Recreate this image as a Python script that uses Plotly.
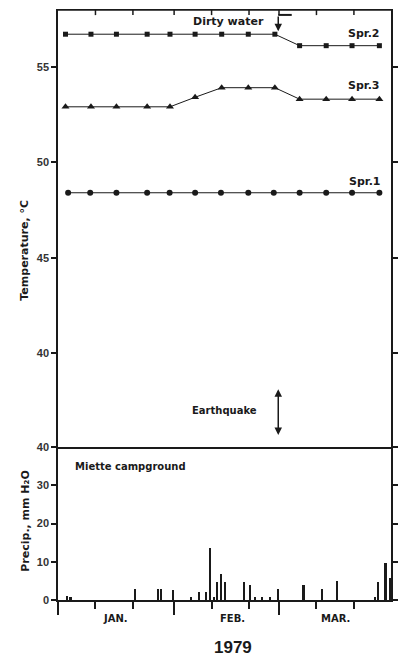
import plotly.graph_objects as go

# ---- data (days counted from Jan 1, 1979) ----
spring_days = [2.0, 8.8, 15.6, 23.8, 29.9, 36.6, 43.7, 50.8, 57.9, 64.5, 71.6, 78.5, 85.8]
spr1_days = [2.7, 8.6, 15.6, 23.8, 29.8, 36.6, 43.5, 50.8, 57.6, 64.5, 71.6, 78.5, 85.8]
spr2_temp = [56.7, 56.7, 56.7, 56.7, 56.7, 56.7, 56.7, 56.7, 56.7, 56.1, 56.1, 56.1, 56.1]
spr3_temp = [52.9, 52.9, 52.9, 52.9, 52.9, 53.4, 53.9, 53.9, 53.9, 53.3, 53.3, 53.3, 53.3]
spr1_temp = [48.4, 48.4, 48.4, 48.4, 48.4, 48.4, 48.4, 48.4, 48.4, 48.4, 48.4, 48.4, 48.4]

precip_days = [2.35, 3.4, 20.65, 26.7, 27.6, 30.8, 35.6, 37.6, 39.6, 40.7, 41.6, 42.6,
               43.6, 44.6, 49.7, 51.4, 52.7, 54.6, 56.6, 58.7, 65.6, 70.5, 74.6, 84.6,
               85.6, 87.5, 88.7]
precip_mm = [1.0, 0.8, 2.9, 2.9, 2.9, 2.7, 0.9, 2.0, 2.0, 13.5, 0.8, 4.8,
             6.9, 4.8, 4.8, 4.0, 0.9, 0.8, 0.9, 2.9, 4.0, 2.9, 5.0, 0.9,
             4.8, 9.6, 5.7]

month_labels = ["JAN.", "FEB.", "MAR."]
month_centers = [15.3, 46.6, 74.2]
month_starts = [0, 31, 59]
dekad_ticks = [10, 20, 41, 51, 69, 79]
top_ticks = [10, 20, 31, 41, 51, 59, 69, 79]
temp_ticks = [40, 45, 50, 55]
precip_ticks = [0, 10, 20, 30, 40]
event_day = 58.8

X_RANGE = [0, 88.9]
TEMP_RANGE = [35.09, 58.02]
PRECIP_RANGE = [0, 40]
SPLIT = 153 / 591.0

INK = "#1a1a1a"
FONT = "DejaVu Sans"


def py(pixel_y):
    return (600 - pixel_y) / 591.0


fig = go.Figure()

fig.add_trace(go.Bar(x=precip_days, y=precip_mm, width=0.42, marker_color=INK,
                     marker_line_width=0, xaxis="x", yaxis="y", showlegend=False))

for days, temps, sym, size in [(spring_days, spr2_temp, "square", 5),
                               (spring_days, spr3_temp, "triangle-up", 7),
                               (spr1_days, spr1_temp, "circle", 6)]:
    fig.add_trace(go.Scatter(x=days, y=temps, mode="lines+markers",
                             line=dict(color=INK, width=1),
                             marker=dict(symbol=sym, size=size, color=INK),
                             xaxis="x2", yaxis="y2", showlegend=False))

tickfont = dict(family="Liberation Sans", size=11, color="#333", weight="bold")

fig.update_layout(
    width=399, height=659,
    margin=dict(l=58, r=1, t=9, b=59),
    paper_bgcolor="white", plot_bgcolor="white",
    bargap=0,
    xaxis=dict(domain=[0, 1], range=X_RANGE, anchor="y",
               tickmode="array", tickvals=month_starts, ticks="outside", ticklen=13,
               tickwidth=1.5, tickcolor=INK, showticklabels=False,
               showline=True, linewidth=1.5, linecolor=INK, showgrid=False, zeroline=False,
               minor=dict(tickmode="array", tickvals=dekad_ticks, ticks="outside",
                          ticklen=7, tickwidth=1.5, tickcolor=INK)),
    yaxis=dict(domain=[0, SPLIT], range=PRECIP_RANGE, anchor="x",
               tickmode="array", tickvals=precip_ticks, ticks="outside", ticklen=5,
               tickwidth=1.5, tickcolor=INK, tickfont=tickfont,
               showline=True, linewidth=1.5, linecolor=INK, mirror="ticks",
               showgrid=False, zeroline=False),
    xaxis2=dict(domain=[0, 1], range=X_RANGE, anchor="y2", side="bottom",
                ticks="", showticklabels=False, showline=True, linewidth=1.5,
                linecolor=INK, showgrid=False, zeroline=False),
    yaxis2=dict(domain=[SPLIT, 1], range=TEMP_RANGE, anchor="x2",
                tickmode="array", tickvals=temp_ticks, ticks="outside", ticklen=5,
                tickwidth=1.5, tickcolor=INK, tickfont=tickfont,
                showline=True, linewidth=1.5, linecolor=INK, mirror="ticks",
                showgrid=False, zeroline=False),
)

lab = dict(family=FONT, size=11, color=INK, weight="bold")
small = dict(family=FONT, size=10, color=INK, weight="bold")
ann = []
# axis titles
ann.append(dict(text="Temperature, °C", xref="paper", yref="paper", x=(24 - 58) / 340.0,
                y=py(250), xanchor="center", yanchor="middle",
                textangle=-90, showarrow=False, font=lab))
ann.append(dict(text="Precip., mm H₂O", xref="paper", yref="paper", x=(24 - 58) / 340.0,
                y=py(521), xanchor="center", yanchor="middle",
                textangle=-90, showarrow=False, font=lab))
for m, c in zip(month_labels, month_centers):
    ann.append(dict(text=m, x=c, xref="x", yref="paper", y=py(618),
                    xanchor="center", yanchor="middle", showarrow=False, font=small))
ann.append(dict(text="1979", x=46.6, xref="x", yref="paper", y=py(647),
                xanchor="center", yanchor="middle", showarrow=False,
                font=dict(family="Liberation Sans", size=17, color=INK, weight="bold")))
# series labels
for t, xx, yy in [("Spr.2", 81.6, 56.76), ("Spr.3", 81.8, 53.99), ("Spr.1", 82.0, 48.98)]:
    ann.append(dict(text=t, x=xx, y=yy, xref="x2", yref="y2", xanchor="center",
                    yanchor="middle", showarrow=False, font=lab))
ann.append(dict(text="Miette campground", x=3.9, y=34.85, xref="x", yref="y",
                xanchor="left", yanchor="middle", showarrow=False, font=small))
ann.append(dict(text="Dirty water", x=45.5, y=57.36, xref="x2", yref="y2",
                xanchor="center", yanchor="middle", showarrow=False, font=lab))
ann.append(dict(text="Earthquake", x=44.4, y=37.0, xref="x2", yref="y2",
                xanchor="center", yanchor="middle", showarrow=False, font=small))
# arrows
ann.append(dict(text="", x=event_day, y=56.85, ax=event_day, ay=57.71, xref="x2", yref="y2",
                axref="x2", ayref="y2", showarrow=True, arrowhead=2, arrowsize=1,
                arrowwidth=1.5, arrowcolor=INK))
ann.append(dict(text="", x=event_day, y=35.72, ax=event_day, ay=38.19, xref="x2", yref="y2",
                axref="x2", ayref="y2", showarrow=True, arrowhead=2, startarrowhead=2,
                arrowside="end+start", arrowsize=1, arrowwidth=1.5, arrowcolor=INK))
fig.update_layout(annotations=ann)

# top frame with inward ticks
fig.add_shape(type="line", xref="x2", yref="y2", x0=X_RANGE[0], x1=X_RANGE[1],
              y0=TEMP_RANGE[1] - 0.04, y1=TEMP_RANGE[1] - 0.04,
              layer="above", line=dict(color=INK, width=2))
for tv in top_ticks:
    fig.add_shape(type="line", xref="x2", yref="y2", x0=tv, x1=tv,
                  y0=TEMP_RANGE[1] - 0.04, y1=TEMP_RANGE[1] - 0.32,
                  layer="above", line=dict(color=INK, width=1.5))
fig.add_shape(type="line", xref="x2", yref="y2", x0=event_day, x1=62.4, y0=57.71, y1=57.71,
              line=dict(color=INK, width=2))

fig.write_html("out.html")
